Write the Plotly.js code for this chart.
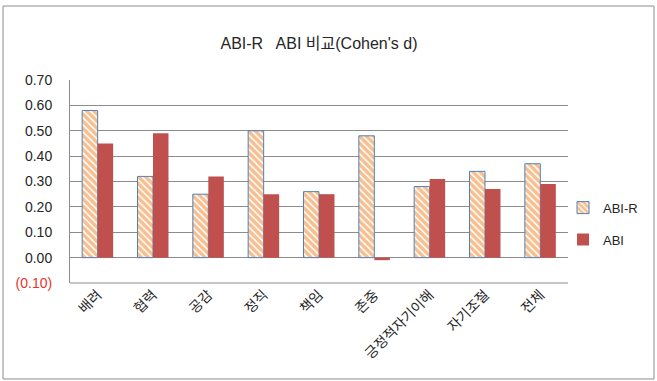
<!DOCTYPE html>
<html>
<head>
<meta charset="utf-8">
<script src="https://cdn.plot.ly/plotly-3.0.1.min.js"></script>
<style>
html,body{margin:0;padding:0;background:#fff;}
#chart{width:657px;height:381px;}
</style>
</head>
<body>
<div id="chart"></div>
<script>
const categories = ["배려","협력","공감","정직","책임","존중","긍정적자기이해","자기조절","전체"];
const abiR = [0.58, 0.32, 0.25, 0.50, 0.26, 0.48, 0.28, 0.34, 0.37];
const abi  = [0.45, 0.49, 0.32, 0.25, 0.25, -0.01, 0.31, 0.27, 0.29];
const tickVals = [-0.1, 0, 0.1, 0.2, 0.3, 0.4, 0.5, 0.6, 0.7];
const tickText = ['<span style="color:#e8332a">(0.10)</span>', "0.00", "0.10", "0.20", "0.30", "0.40", "0.50", "0.60", "0.70"];

const fontFam = "Liberation Sans, Noto Sans CJK KR, sans-serif";

const traces = [
  {
    type: "bar", name: "ABI-R", x: categories, y: abiR, legendgroup: "a",
    marker: {
      color: "#ffffff",
      line: {color: "#4f81bd", width: 1},
      pattern: {shape: "\\", fgcolor: "#f08020", bgcolor: "#ffffff", size: 5, solidity: 0.7, fillmode: "overlay"}
    }
  },
  {
    type: "bar", name: "ABI", x: categories, y: abi, legendgroup: "b",
    marker: {color: "#c0504d", line: {color: "#c0504d", width: 0}}
  }
];

const layout = {
  width: 657, height: 381,
  margin: {l: 70, r: 89, t: 80, b: 98, autoexpand: false},
  paper_bgcolor: "#ffffff", plot_bgcolor: "#ffffff",
  font: {family: fontFam, size: 12, color: "#404040"},
  title: {text: "ABI-R   ABI 비교(Cohen's d)", x: 0.5, xanchor: "center", y: 0.885, yanchor: "middle", xref: "paper",
          font: {family: fontFam, size: 16, color: "#262626"}},
  barmode: "group", bargap: 0.44, bargroupgap: 0,
  xaxis: {
    type: "category", tickangle: -45, showgrid: false, zeroline: false, automargin: false,
    showline: false, ticks: "", tickfont: {family: "Noto Sans CJK KR, sans-serif", size: 14, color: "#262626"}
  },
  yaxis: {
    range: [-0.1, 0.7], tickvals: tickVals, ticktext: tickText, automargin: false,
    showgrid: true, gridcolor: "#8c8c8c", gridwidth: 1, zeroline: false,
    showline: true, linecolor: "#8c8c8c", linewidth: 1, ticks: "",
    ticklabelstandoff: 14,
    tickfont: {family: fontFam, size: 14, color: "#262626"}
  },
  legend: {
    x: 0.99, xanchor: "left", y: 0.445, yanchor: "top", itemwidth: 30,
    font: {family: fontFam, size: 13, color: "#262626"},
    tracegroupgap: 12, traceorder: "grouped", bgcolor: "rgba(0,0,0,0)"
  },
  shapes: [
    {type: "rect", xref: "paper", yref: "paper", x0: -0.1345, x1: 1.1727, y0: -0.4729, y1: 1.3645,
     line: {color: "#8c8c8c", width: 1}, fillcolor: "rgba(0,0,0,0)", layer: "below"},
    {type: "line", xref: "paper", yref: "paper", x0: 0, x1: 1, y0: 0, y1: 0,
     line: {color: "#8c8c8c", width: 1}}
  ]
};

Plotly.newPlot("chart", traces, layout, {displayModeBar: false, staticPlot: true});
</script>
</body>
</html>
